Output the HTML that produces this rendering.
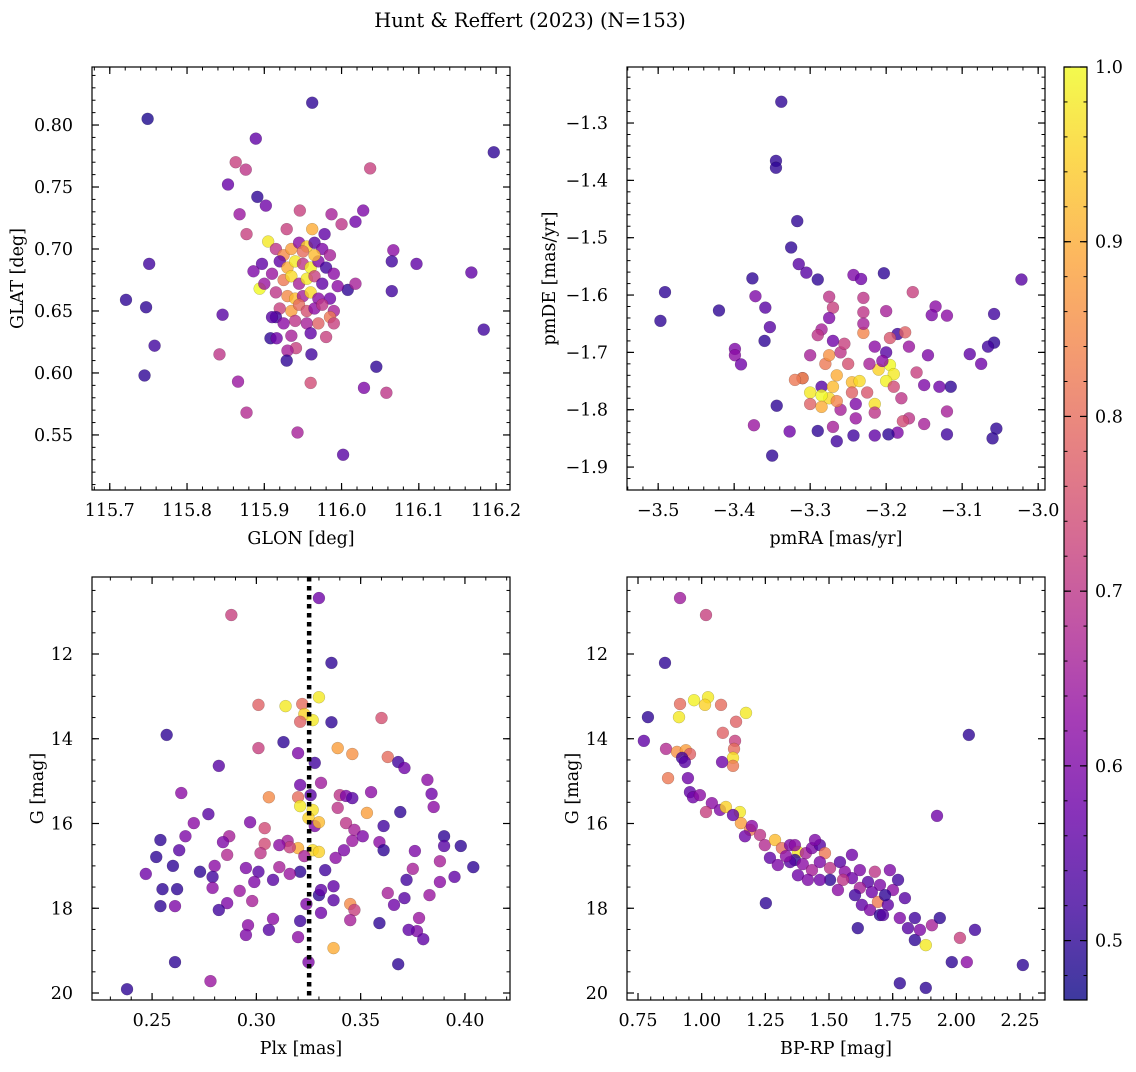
<!DOCTYPE html>
<html><head><meta charset="utf-8"><style>
body{margin:0;background:#fff;}
svg text{font-family:"DejaVu Serif","Liberation Serif",serif;fill:#000;}
</style></head><body>
<svg id="fig" width="1136" height="1067" viewBox="0 0 1136 1067" xmlns="http://www.w3.org/2000/svg">
<defs>
<linearGradient id="cbgrad" x1="0" y1="1" x2="0" y2="0">
<stop offset="0" stop-color="#0d0887"/><stop offset="0.1" stop-color="#41049d"/><stop offset="0.2" stop-color="#6a00a8"/><stop offset="0.3" stop-color="#8f0da4"/><stop offset="0.4" stop-color="#b12a90"/><stop offset="0.5" stop-color="#cc4778"/><stop offset="0.6" stop-color="#e16462"/><stop offset="0.7" stop-color="#f2844b"/><stop offset="0.8" stop-color="#fca636"/><stop offset="0.9" stop-color="#fcce25"/><stop offset="1" stop-color="#f0f921"/>
</linearGradient>
</defs>
<text x="530" y="27" font-size="19.5" text-anchor="middle">Hunt &amp; Reffert (2023) (N=153)</text>
</svg>
<script>
// Panel 1: GLON / GLAT
const p1x=[115.749,115.962,116.197,115.721,115.747,115.751,115.758,115.745,116.168,116.184,116.002,115.943,115.877,115.866,115.842,115.846,115.853,115.863,115.876,115.889,115.868,115.877,115.891,115.902,116.037,116.028,116.018,116.000,115.987,115.962,115.946,115.929,115.978,116.067,116.065,116.097,116.065,116.008,116.018,116.029,116.045,116.058,115.980,115.960,115.961,115.941,115.930,115.929,115.908,115.916,115.905,115.894,115.897,115.886,115.900,115.915,115.925,115.935,115.945,115.955,115.965,115.975,115.985,115.920,115.930,115.940,115.950,115.960,115.970,115.980,115.990,115.910,115.925,115.935,115.945,115.955,115.965,115.975,115.995,115.915,115.930,115.940,115.950,115.960,115.970,115.985,115.920,115.935,115.945,115.955,115.965,115.975,115.990,115.915,115.925,115.940,115.955,115.970,115.985,115.935,115.960,115.990,115.910,115.950,115.965];
const p1y=[0.805,0.818,0.778,0.659,0.653,0.688,0.622,0.598,0.681,0.635,0.534,0.552,0.568,0.593,0.615,0.647,0.752,0.770,0.764,0.789,0.728,0.712,0.742,0.735,0.765,0.731,0.722,0.720,0.728,0.716,0.731,0.716,0.712,0.699,0.690,0.688,0.666,0.667,0.672,0.588,0.605,0.584,0.629,0.592,0.615,0.620,0.618,0.610,0.628,0.628,0.706,0.668,0.688,0.682,0.672,0.700,0.695,0.700,0.705,0.702,0.705,0.700,0.695,0.690,0.685,0.690,0.688,0.685,0.690,0.685,0.680,0.680,0.675,0.678,0.672,0.676,0.678,0.672,0.670,0.665,0.662,0.660,0.662,0.665,0.660,0.660,0.652,0.650,0.655,0.650,0.652,0.655,0.650,0.645,0.640,0.642,0.640,0.640,0.645,0.630,0.632,0.640,0.645,0.698,0.695];
const p1c=[0.48,0.50,0.50,0.50,0.50,0.52,0.52,0.50,0.56,0.52,0.55,0.66,0.68,0.64,0.70,0.55,0.57,0.72,0.70,0.56,0.64,0.72,0.50,0.58,0.72,0.60,0.58,0.70,0.66,0.90,0.72,0.72,0.56,0.62,0.52,0.56,0.52,0.50,0.66,0.60,0.50,0.70,0.72,0.74,0.52,0.72,0.66,0.50,0.50,0.58,0.98,1.0,0.56,0.60,0.64,0.70,0.85,0.88,0.62,0.95,0.55,0.60,0.66,0.56,0.90,0.98,0.70,0.99,0.60,0.52,0.62,0.64,0.82,0.96,0.66,0.98,0.72,0.56,0.62,0.70,0.85,0.92,0.66,0.96,0.62,0.58,0.72,0.88,0.80,0.75,0.62,0.70,0.66,0.52,0.62,0.70,0.66,0.78,0.82,0.66,0.56,0.72,0.55,0.80,0.92];
// Panel 2: pmRA / pmDE
const p2x=[-3.338,-3.345,-3.345,-3.317,-3.491,-3.497,-3.42,-3.376,-3.372,-3.359,-3.353,-3.360,-3.399,-3.399,-3.391,-3.374,-3.344,-3.327,-3.350,-3.325,-3.315,-3.305,-3.290,-3.243,-3.233,-3.203,-3.275,-3.270,-3.275,-3.230,-3.200,-3.165,-3.135,-3.140,-3.120,-3.058,-3.022,-3.090,-3.075,-3.058,-3.066,-3.115,-3.055,-3.060,-3.120,-3.120,-3.150,-3.150,-3.170,-3.178,-3.185,-3.197,-3.215,-3.243,-3.265,-3.290,-3.285,-3.310,-3.300,-3.185,-3.170,-3.160,-3.130,-3.145,-3.180,-3.195,-3.215,-3.175,-3.2,-3.230,-3.230,-3.230,-3.195,-3.190,-3.200,-3.210,-3.215,-3.245,-3.235,-3.265,-3.270,-3.275,-3.300,-3.285,-3.310,-3.320,-3.300,-3.285,-3.280,-3.275,-3.260,-3.250,-3.255,-3.245,-3.225,-3.222,-3.215,-3.260,-3.240,-3.270,-3.285,-3.270,-3.290,-3.240,-3.205,-3.190,-3.265];
const p2y=[-1.263,-1.366,-1.378,-1.471,-1.595,-1.645,-1.627,-1.571,-1.602,-1.622,-1.656,-1.680,-1.694,-1.705,-1.721,-1.827,-1.793,-1.838,-1.880,-1.517,-1.546,-1.561,-1.573,-1.565,-1.572,-1.562,-1.603,-1.622,-1.640,-1.605,-1.628,-1.595,-1.620,-1.635,-1.636,-1.633,-1.573,-1.703,-1.720,-1.683,-1.690,-1.760,-1.833,-1.850,-1.843,-1.803,-1.757,-1.825,-1.815,-1.820,-1.840,-1.843,-1.845,-1.845,-1.855,-1.837,-1.760,-1.745,-1.705,-1.668,-1.690,-1.735,-1.760,-1.705,-1.780,-1.675,-1.690,-1.665,-1.700,-1.666,-1.630,-1.650,-1.722,-1.738,-1.750,-1.730,-1.790,-1.752,-1.750,-1.740,-1.760,-1.780,-1.770,-1.775,-1.745,-1.748,-1.790,-1.795,-1.720,-1.705,-1.700,-1.720,-1.685,-1.770,-1.770,-1.720,-1.805,-1.800,-1.815,-1.830,-1.660,-1.680,-1.670,-1.790,-1.715,-1.760,-1.785];
const p2c=[0.5,0.5,0.5,0.5,0.5,0.5,0.5,0.5,0.6,0.55,0.55,0.50,0.6,0.62,0.58,0.64,0.5,0.58,0.5,0.5,0.55,0.55,0.5,0.6,0.58,0.50,0.7,0.72,0.6,0.7,0.66,0.72,0.62,0.6,0.62,0.52,0.55,0.56,0.58,0.5,0.52,0.5,0.5,0.5,0.52,0.66,0.6,0.66,0.70,0.74,0.6,0.5,0.56,0.52,0.52,0.5,0.55,0.62,0.66,0.52,0.64,0.72,0.58,0.6,0.70,0.76,0.62,0.78,0.55,0.84,0.70,0.66,1.0,0.98,0.99,0.95,0.97,0.92,0.96,0.9,0.92,0.96,0.98,1.0,0.86,0.82,0.78,0.9,0.82,0.86,0.7,0.75,0.72,0.78,0.76,0.66,0.70,0.66,0.64,0.66,0.66,0.58,0.7,0.60,0.62,0.74,0.84];
// Panel 3: Plx / G
const p3x=[0.238,0.278,0.261,0.288,0.330,0.336,0.257,0.264,0.282,0.301,0.314,0.322,0.330,0.323,0.321,0.327,0.336,0.360,0.313,0.320,0.301,0.328,0.339,0.346,0.363,0.368,0.306,0.320,0.326,0.321,0.321,0.327,0.325,0.328,0.330,0.340,0.343,0.346,0.355,0.353,0.339,0.343,0.347,0.361,0.369,0.385,0.371,0.382,0.384,0.331,0.270,0.266,0.277,0.287,0.297,0.304,0.320,0.327,0.330,0.323,0.321,0.316,0.333,0.338,0.342,0.346,0.351,0.359,0.361,0.376,0.375,0.390,0.390,0.388,0.398,0.404,0.395,0.388,0.383,0.372,0.371,0.363,0.366,0.378,0.377,0.373,0.380,0.368,0.359,0.345,0.347,0.345,0.337,0.337,0.330,0.331,0.324,0.321,0.320,0.337,0.325,0.331,0.308,0.311,0.301,0.304,0.302,0.315,0.316,0.311,0.299,0.295,0.284,0.286,0.280,0.279,0.273,0.263,0.260,0.254,0.252,0.247,0.255,0.254,0.262,0.261,0.279,0.296,0.295,0.286,0.282,0.292,0.298,0.306,0.308];
const p3y=[19.91,19.72,19.27,11.08,10.68,12.21,13.91,15.28,14.64,13.20,13.23,13.18,13.02,13.42,13.60,13.56,13.61,13.51,14.08,14.34,14.22,14.57,14.22,14.36,14.43,14.55,15.38,15.38,15.33,15.09,15.59,15.68,15.87,16.06,15.97,15.33,15.35,15.40,15.26,15.75,15.63,15.99,16.15,16.06,15.73,15.61,14.69,14.97,15.30,15.04,15.99,16.30,15.78,16.30,15.97,16.11,16.58,16.63,16.67,16.77,17.14,17.19,17.10,16.81,16.63,16.41,16.30,16.44,16.63,16.65,17.07,16.30,16.53,16.89,16.53,17.03,17.26,17.38,17.69,17.33,17.76,17.64,17.92,18.23,18.54,18.51,18.73,19.32,18.35,17.90,18.04,18.28,17.48,17.81,17.69,18.11,17.90,18.30,18.68,18.94,19.27,17.57,17.33,17.03,17.14,16.48,16.70,16.41,16.56,16.51,17.38,17.05,16.44,16.74,17.00,17.26,17.14,16.63,17.00,16.39,16.79,17.19,17.55,17.95,17.55,17.95,17.52,18.40,18.63,17.88,18.04,17.59,17.83,18.51,18.25];
const p3c=[0.5,0.64,0.5,0.72,0.58,0.5,0.5,0.62,0.55,0.78,0.98,0.8,0.98,0.95,0.78,0.98,0.5,0.75,0.5,0.6,0.72,0.52,0.88,0.86,0.8,0.52,0.85,0.8,0.55,0.58,0.98,0.97,0.95,0.6,0.92,0.7,0.6,0.55,0.62,0.88,0.7,0.7,0.66,0.52,0.5,0.62,0.58,0.62,0.58,0.65,0.62,0.6,0.55,0.66,0.6,0.74,0.9,0.96,0.95,0.66,0.5,0.64,0.52,0.62,0.6,0.64,0.6,0.62,0.5,0.6,0.66,0.5,0.55,0.66,0.5,0.5,0.56,0.62,0.64,0.52,0.55,0.66,0.58,0.64,0.6,0.56,0.56,0.5,0.5,0.85,0.72,0.66,0.56,0.55,0.5,0.58,0.6,0.52,0.62,0.9,0.6,0.56,0.55,0.66,0.55,0.74,0.7,0.66,0.72,0.62,0.6,0.6,0.6,0.68,0.62,0.52,0.5,0.55,0.5,0.5,0.5,0.58,0.5,0.5,0.5,0.6,0.62,0.62,0.6,0.6,0.52,0.64,0.66,0.55,0.62];
// Panel 4: BP-RP / G
const p4x=[0.789,0.856,0.915,1.017,0.773,0.915,0.911,0.970,1.025,1.013,1.076,1.174,1.135,1.083,1.131,1.127,1.123,1.123,1.080,0.860,0.903,0.938,0.954,0.923,0.946,0.868,0.934,0.954,0.966,0.993,1.040,1.017,1.072,1.150,1.095,1.154,1.123,1.190,1.170,1.229,1.197,1.248,1.288,1.315,1.347,1.378,1.409,1.433,1.464,1.484,1.445,1.366,1.397,1.433,1.464,1.504,1.543,1.562,1.590,1.555,1.504,1.621,1.653,1.680,1.700,1.668,1.621,1.602,1.629,1.661,1.692,1.731,1.700,1.751,1.798,1.778,1.810,1.837,1.837,1.857,1.904,1.935,1.880,2.014,2.073,1.924,2.049,1.252,1.613,1.712,1.778,1.880,1.982,2.041,2.261,1.590,1.535,1.378,1.417,1.464,1.347,1.331,1.268,1.299,1.366,1.739,1.771,1.720];
const p4y=[13.49,12.21,10.68,11.08,14.05,13.18,13.49,13.09,13.02,13.20,13.20,13.39,13.60,13.86,14.05,14.24,14.45,14.64,14.55,14.24,14.31,14.27,14.36,14.45,14.93,14.93,14.55,15.26,15.38,15.33,15.52,15.73,15.68,15.73,15.61,15.99,15.80,16.15,16.30,16.27,16.06,16.51,16.39,16.58,16.51,16.67,16.70,16.58,16.51,16.70,16.39,16.86,16.96,17.10,16.91,17.05,16.91,17.14,17.29,17.33,17.33,17.10,17.38,17.14,17.45,17.62,17.52,17.69,17.92,18.04,17.85,17.92,18.16,17.57,17.76,18.23,18.47,18.23,18.75,18.51,18.40,18.23,18.87,18.70,18.51,15.82,13.91,17.88,18.47,18.16,19.77,19.88,19.27,19.27,19.34,16.74,17.57,17.22,17.33,17.33,16.91,16.77,16.81,16.98,16.51,17.10,17.33,17.69];
const p4c=[0.5,0.5,0.65,0.72,0.56,0.8,0.98,0.99,0.98,0.95,0.8,0.98,0.78,0.78,0.72,0.8,0.97,0.82,0.58,0.68,0.86,0.88,0.78,0.52,0.58,0.82,0.55,0.56,0.58,0.62,0.62,0.72,0.6,0.98,0.95,0.88,0.56,0.82,0.58,0.7,0.62,0.68,0.92,0.8,0.6,0.98,0.66,0.6,0.55,0.82,0.6,0.5,0.62,0.66,0.6,0.7,0.55,0.62,0.58,0.7,0.5,0.6,0.55,0.7,0.6,0.58,0.66,0.52,0.56,0.6,0.82,0.56,0.5,0.62,0.55,0.6,0.55,0.52,0.5,0.6,0.66,0.5,0.98,0.72,0.52,0.58,0.5,0.5,0.5,0.55,0.5,0.5,0.5,0.62,0.5,0.58,0.62,0.58,0.6,0.58,0.55,0.62,0.56,0.6,0.62,0.6,0.52,0.5];
// Tick labels
const p1xTicks=["115.7","115.8","115.9","116.0","116.1","116.2"];
const p1yTicks=["0.55","0.60","0.65","0.70","0.75","0.80"];
const p2xTicks=["−3.5","−3.4","−3.3","−3.2","−3.1","−3.0"];
const p2yTicks=["−1.9","−1.8","−1.7","−1.6","−1.5","−1.4","−1.3"];
const p3xTicks=["0.25","0.30","0.35","0.40"];
const gTicks=["12","14","16","18","20"];
const p4xTicks=["0.75","1.00","1.25","1.50","1.75","2.00","2.25"];
const cbTicks=["0.5","0.6","0.7","0.8","0.9","1.0"];
const plxLine=[0.3253];

const NS="http://www.w3.org/2000/svg";
const svg=document.getElementById('fig');
const stops=[[13,8,135],[65,4,157],[106,0,168],[143,13,164],[177,42,144],[204,71,120],[225,100,98],[242,132,75],[252,166,54],[252,206,37],[240,249,33]];
const VMIN=0.466,VMAX=1.0;
const TF=17.5, LF=17.5;
function plasma(v){let t=(v-VMIN)/(VMAX-VMIN);t=Math.max(0,Math.min(1,t))*10;const i=Math.min(9,Math.floor(t)),f=t-i;const a=stops[i],b=stops[i+1];return 'rgb('+a.map((c,k)=>Math.round(c+(b[k]-c)*f)).join(',')+')';}
function mk(tag,attrs,parent){const e=document.createElementNS(NS,tag);for(const k in attrs)e.setAttribute(k,attrs[k]);(parent||svg).appendChild(e);return e;}

function panel(o){
  const g=mk('g',{});
  
  
  const sx=v=>o.L+(v-o.x0)/(o.x1-o.x0)*(o.R-o.L);
  const sy=v=>o.inv? o.T+(v-o.y0)/(o.y1-o.y0)*(o.B-o.T) : o.B-(v-o.y0)/(o.y1-o.y0)*(o.B-o.T);
  const cid='clip'+o.name;
  const cp=mk('clipPath',{id:cid},g);mk('rect',{x:o.L,y:o.T,width:o.R-o.L,height:o.B-o.T},cp);
  const pts=mk('g',{'clip-path':'url(#'+cid+')'},g);
  
  
  for(let i=0;i<o.xs.length;i++){
    const c=mk('circle',{cx:sx(o.xs[i]),cy:sy(o.ys[i]),r:6,fill:plasma(o.cs[i]),'fill-opacity':0.8,stroke:'rgba(0,0,0,0.25)','stroke-width':0.5},pts);
    
    
  }
  if(o.vline){const vl=mk('line',{x1:sx(o.vline[0]),x2:sx(o.vline[0]),y1:o.T,y2:o.B,stroke:'#000','stroke-width':4.5,'stroke-dasharray':'4.5,4.5'},pts);
    
    }
  mk('rect',{x:o.L,y:o.T,width:o.R-o.L,height:o.B-o.T,fill:'none',stroke:'#000','stroke-width':1.2},g);
  const xt=mk('g',{},g);
  
  
  for(let v=o.xmin0;v<=o.x1+1e-9;v+=o.xminor){if(v<o.x0-1e-9)continue;const X=sx(v);
    mk('line',{x1:X,x2:X,y1:o.B,y2:o.B-3.5,stroke:'#000','stroke-width':1},xt);mk('line',{x1:X,x2:X,y1:o.T,y2:o.T+3.5,stroke:'#000','stroke-width':1},xt);}
  o.xt.forEach((lab,i)=>{const v=o.xt0+i*o.xstep;const X=sx(v);
    mk('line',{x1:X,x2:X,y1:o.B,y2:o.B-7,stroke:'#000','stroke-width':1.2},xt);mk('line',{x1:X,x2:X,y1:o.T,y2:o.T+7,stroke:'#000','stroke-width':1.2},xt);
    const t=mk('text',{x:X,y:o.B+26,'font-size':TF,'text-anchor':'middle'},xt);t.textContent=lab;
    
    });
  const yt=mk('g',{},g);
  
  
  for(let v=o.ymin0;v<=o.y1+1e-9;v+=o.yminor){if(v<o.y0-1e-9)continue;const Y=sy(v);
    mk('line',{x1:o.L,x2:o.L+3.5,y1:Y,y2:Y,stroke:'#000','stroke-width':1},yt);mk('line',{x1:o.R,x2:o.R-3.5,y1:Y,y2:Y,stroke:'#000','stroke-width':1},yt);}
  o.yt.forEach((lab,i)=>{const v=o.yt0+i*o.ystep;const Y=sy(v);
    mk('line',{x1:o.L,x2:o.L+7,y1:Y,y2:Y,stroke:'#000','stroke-width':1.2},yt);mk('line',{x1:o.R,x2:o.R-7,y1:Y,y2:Y,stroke:'#000','stroke-width':1.2},yt);
    const t=mk('text',{x:o.L-19,y:Y+6,'font-size':TF,'text-anchor':'end'},yt);t.textContent=lab;
    
    });
  const xl=mk('text',{x:(o.L+o.R)/2,y:o.B+54,'font-size':LF,'text-anchor':'middle'},g);xl.textContent=o.xlab;
  
  
  const yl=mk('text',{x:o.ylx,y:(o.T+o.B)/2,'font-size':LF,'text-anchor':'middle',transform:'rotate(-90 '+o.ylx+' '+((o.T+o.B)/2)+')'},g);yl.textContent=o.ylab;
  
  
}

panel({name:'glon-glat-panel',L:92,R:510,T:67,B:490,x0:115.677,x1:116.218,y0:0.5056,y1:0.8468,xs:p1x,ys:p1y,cs:p1c,
  xt:p1xTicks,xt0:115.7,xstep:0.1,xmin0:115.68,xminor:0.02,yt:p1yTicks,yt0:0.55,ystep:0.05,ymin0:0.51,yminor:0.01,xlab:'GLON [deg]',ylab:'GLAT [deg]',ylx:23});
panel({name:'proper-motion-panel',L:627,R:1045,T:67,B:490,x0:-3.541,x1:-2.991,y0:-1.940,y1:-1.2023,xs:p2x,ys:p2y,cs:p2c,
  xt:p2xTicks,xt0:-3.5,xstep:0.1,xmin0:-3.54,xminor:0.02,yt:p2yTicks,yt0:-1.9,ystep:0.1,ymin0:-1.94,yminor:0.02,xlab:'pmRA [mas/yr]',ylab:'pmDE [mas/yr]',ylx:555});
panel({name:'plx-g-panel',L:92,R:510,T:577,B:1000,x0:0.2212,x1:0.4216,y0:10.183,y1:20.165,inv:true,xs:p3x,ys:p3y,cs:p3c,vline:plxLine,
  xt:p3xTicks,xt0:0.25,xstep:0.05,xmin0:0.23,xminor:0.01,yt:gTicks,yt0:12,ystep:2,ymin0:10.5,yminor:0.5,xlab:'Plx [mas]',ylab:'G [mag]',ylx:43});
panel({name:'cmd-panel',L:627,R:1045,T:577,B:1000,x0:0.7068,x1:2.348,y0:10.183,y1:20.165,inv:true,xs:p4x,ys:p4y,cs:p4c,
  xt:p4xTicks,xt0:0.75,xstep:0.25,xmin0:0.75,xminor:0.05,yt:gTicks,yt0:12,ystep:2,ymin0:10.5,yminor:0.5,xlab:'BP-RP [mag]',ylab:'G [mag]',ylx:578});

// Colorbar
const cb=mk('g',{});


const cL=1064,cR=1087,cT=67,cB=1000;
mk('rect',{x:cL,y:cT,width:cR-cL,height:cB-cT,fill:'url(#cbgrad)','fill-opacity':0.8},cb);
mk('rect',{x:cL,y:cT,width:cR-cL,height:cB-cT,fill:'none',stroke:'#000','stroke-width':1.2},cb);
const cy=v=>cB-(v-VMIN)/(VMAX-VMIN)*(cB-cT);
for(let v=0.48;v<=1.0001;v+=0.02){const Y=cy(v);mk('line',{x1:cR,x2:cR-3.5,y1:Y,y2:Y,stroke:'#000','stroke-width':1},cb);mk('line',{x1:cL,x2:cL+3.5,y1:Y,y2:Y,stroke:'#000','stroke-width':1},cb);}
cbTicks.forEach((lab,i)=>{const Y=cy(0.5+i*0.1);mk('line',{x1:cR,x2:cR-7,y1:Y,y2:Y,stroke:'#000','stroke-width':1.2},cb);mk('line',{x1:cL,x2:cL+7,y1:Y,y2:Y,stroke:'#000','stroke-width':1.2},cb);
  const t=mk('text',{x:cR+8,y:Y+6,'font-size':TF},cb);t.textContent=lab;
  
  });
</script>
</body></html>
